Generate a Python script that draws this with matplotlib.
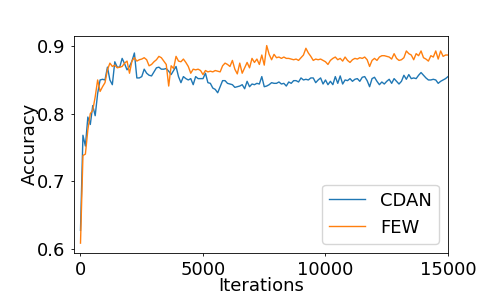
"""plot.py"""

import matplotlib
matplotlib.use("Agg")
import matplotlib.pyplot as plt
import numpy as np

# evaluation every 100 iterations
iterations = np.arange(0, 15001, 100)

cdan = [
    0.627, 0.768, 0.752, 0.795, 0.784, 0.812, 0.797, 0.830, 0.850, 0.851,
    0.850, 0.869, 0.850, 0.843, 0.877, 0.869, 0.869, 0.882, 0.874, 0.865,
    0.870, 0.878, 0.890, 0.853, 0.853, 0.855, 0.866, 0.860, 0.857, 0.856,
    0.862, 0.868, 0.869, 0.866, 0.866, 0.867, 0.863, 0.858, 0.864, 0.870,
    0.855, 0.846, 0.855, 0.852, 0.850, 0.852, 0.843, 0.855, 0.852, 0.852,
    0.852, 0.860, 0.846, 0.845, 0.838, 0.836, 0.831, 0.840, 0.849, 0.849,
    0.845, 0.844, 0.843, 0.839, 0.840, 0.841, 0.843, 0.837, 0.848, 0.840,
    0.844, 0.843, 0.845, 0.844, 0.855, 0.840, 0.841, 0.843, 0.846, 0.845,
    0.845, 0.847, 0.844, 0.845, 0.841, 0.847, 0.845, 0.849, 0.849, 0.847,
    0.853, 0.850, 0.851, 0.850, 0.853, 0.853, 0.846, 0.850, 0.853, 0.844,
    0.850, 0.843, 0.848, 0.843, 0.855, 0.845, 0.856, 0.844, 0.850, 0.849,
    0.852, 0.848, 0.851, 0.852, 0.848, 0.854, 0.855, 0.849, 0.840, 0.852,
    0.854, 0.848, 0.843, 0.847, 0.844, 0.848, 0.851, 0.845, 0.852, 0.848,
    0.844, 0.848, 0.857, 0.851, 0.858, 0.852, 0.853, 0.852, 0.857, 0.861,
    0.857, 0.853, 0.850, 0.850, 0.851, 0.850, 0.845, 0.848, 0.850, 0.852,
    0.855,
]

few = [
    0.608, 0.738, 0.740, 0.776, 0.800, 0.805, 0.825, 0.850, 0.833, 0.840,
    0.846, 0.865, 0.875, 0.870, 0.872, 0.868, 0.869, 0.870, 0.875, 0.878,
    0.860, 0.878, 0.883, 0.878, 0.880, 0.881, 0.883, 0.880, 0.871, 0.873,
    0.877, 0.880, 0.885, 0.883, 0.878, 0.873, 0.841, 0.871, 0.867, 0.885,
    0.878, 0.877, 0.881, 0.876, 0.870, 0.860, 0.866, 0.865, 0.866, 0.864,
    0.858, 0.864, 0.862, 0.863, 0.862, 0.864, 0.863, 0.862, 0.871, 0.875,
    0.873, 0.870, 0.879, 0.866, 0.859, 0.875, 0.860, 0.868, 0.876, 0.868,
    0.882, 0.876, 0.881, 0.873, 0.887, 0.872, 0.901, 0.888, 0.880, 0.888,
    0.883, 0.884, 0.882, 0.884, 0.882, 0.882, 0.881, 0.880, 0.881, 0.879,
    0.883, 0.887, 0.897, 0.890, 0.885, 0.879, 0.881, 0.880, 0.881, 0.879,
    0.877, 0.873, 0.879, 0.882, 0.884, 0.880, 0.882, 0.878, 0.884, 0.879,
    0.876, 0.880, 0.882, 0.881, 0.883, 0.882, 0.884, 0.880, 0.870, 0.879,
    0.882, 0.879, 0.884, 0.886, 0.886, 0.885, 0.884, 0.881, 0.889, 0.882,
    0.879, 0.880, 0.883, 0.893, 0.889, 0.887, 0.880, 0.889, 0.886, 0.893,
    0.883, 0.881, 0.878, 0.886, 0.884, 0.893, 0.881, 0.893, 0.885, 0.887,
    0.887,
]

xticks = [0, 5000, 10000, 15000]
yticks = [0.6, 0.7, 0.8, 0.9]

fig = plt.figure(figsize=(4.98, 2.99), dpi=100)
ax = fig.add_axes([0.1486, 0.1538, 0.7510, 0.7268])

ax.plot(iterations, cdan, color="#1f77b4", lw=1.0, label="CDAN")
ax.plot(iterations, few, color="#ff7f0e", lw=1.0, label="FEW")

ax.set_xlim(-265, 15000)
ax.set_xticks(xticks)
ax.set_yticks(yticks)
ax.tick_params(labelsize=13, length=2.5, width=0.6)
for s in ax.spines.values():
    s.set_linewidth(0.6)

ax.set_xlabel("Iterations", fontsize=13, labelpad=-2)
ax.set_ylabel("Accuracy", fontsize=13, labelpad=-1.5)
ax.legend(loc="lower right", fontsize=13)

fig.savefig("out.png", dpi=100)
